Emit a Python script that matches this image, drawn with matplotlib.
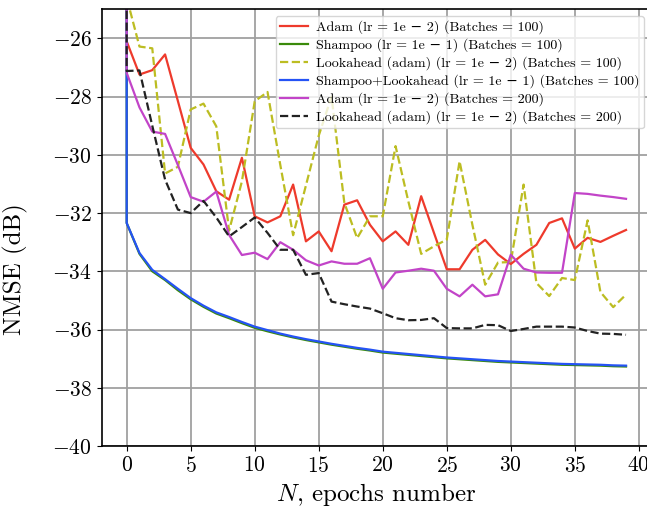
import numpy as np
import matplotlib
matplotlib.use("Agg")
import matplotlib.pyplot as plt

plt.rcParams['font.family'] = 'serif'
plt.rcParams['font.serif'] = ['cmr10', 'DejaVu Serif']
plt.rcParams['mathtext.fontset'] = 'cm'
plt.rcParams['axes.formatter.use_mathtext'] = True

epochs = np.arange(40)
# series that also record the (off-scale) initial value at epoch 0
epochs_init = np.concatenate([[0], epochs])
init_value = -15.0

adam_100 = [-26.1, -27.24, -27.09, -26.55, -28.15, -29.76, -30.33, -31.25, -31.54, -30.1,
            -32.11, -32.32, -32.11, -31.02, -32.97, -32.63, -33.31, -31.71, -31.56, -32.4,
            -32.97, -32.63, -33.09, -31.42, -32.68, -33.93, -33.93, -33.26, -32.92, -33.42,
            -33.75, -33.4, -33.09, -32.34, -32.18, -33.22, -32.85, -32.99, -32.78, -32.58]

shampoo_100 = [-32.34, -33.4, -34.0, -34.3, -34.65, -34.96, -35.22, -35.45, -35.61, -35.78,
               -35.94, -36.06, -36.17, -36.27, -36.36, -36.44, -36.52, -36.59, -36.66, -36.72,
               -36.79, -36.83, -36.87, -36.91, -36.95, -36.99, -37.02, -37.05, -37.08, -37.11,
               -37.13, -37.15, -37.17, -37.19, -37.21, -37.22, -37.23, -37.24, -37.26, -37.27]

lookahead_100 = [-24.6, -26.28, -26.34, -30.64, -30.41, -28.44, -28.24, -29.02, -32.6, -30.91,
                 -28.16, -27.84, -30.35, -32.76, -31.05, -29.34, -28.0, -31.65, -32.86, -32.11,
                 -32.11, -29.7, -31.6, -33.4, -33.14, -32.91, -30.22, -32.4, -34.46, -33.7,
                 -33.68, -31.02, -34.4, -34.85, -34.23, -34.3, -32.25, -34.71, -35.23, -34.8]

shampoo_la_100 = [-32.34, -33.37, -33.95, -34.27, -34.6, -34.92, -35.18, -35.41, -35.57, -35.74,
                  -35.9, -36.02, -36.14, -36.24, -36.33, -36.41, -36.49, -36.56, -36.63, -36.69,
                  -36.76, -36.8, -36.84, -36.88, -36.92, -36.96, -36.99, -37.02, -37.05, -37.08,
                  -37.1, -37.12, -37.14, -37.16, -37.18, -37.19, -37.2, -37.21, -37.23, -37.24]

adam_200 = [-27.18, -28.37, -29.2, -29.28, -30.35, -31.45, -31.61, -31.26, -32.75, -33.44,
            -33.36, -33.58, -33.0, -33.26, -33.62, -33.8, -33.66, -33.74, -33.74, -33.55,
            -34.6, -34.04, -33.98, -33.91, -33.98, -34.6, -34.86, -34.46, -34.86, -34.79,
            -33.43, -33.91, -34.04, -34.05, -34.05, -31.31, -31.34, -31.4, -31.45, -31.51]

lookahead_200 = [-27.12, -27.1, -29.0, -30.85, -31.88, -32.0, -31.58, -32.15, -32.8, -32.48,
                 -32.15, -32.68, -33.26, -33.26, -34.12, -34.06, -35.04, -35.13, -35.21, -35.28,
                 -35.44, -35.61, -35.68, -35.67, -35.61, -35.95, -35.96, -35.96, -35.84, -35.85,
                 -36.05, -35.98, -35.9, -35.9, -35.9, -35.93, -36.05, -36.14, -36.15, -36.18]

labels = [
    "Adam (lr = 1e \u2212 2) (Batches = 100)",
    "Shampoo (lr = 1e \u2212 1) (Batches = 100)",
    "Lookahead (adam) (lr = 1e \u2212 2) (Batches = 100)",
    "Shampoo+Lookahead (lr = 1e \u2212 1) (Batches = 100)",
    "Adam (lr = 1e \u2212 2) (Batches = 200)",
    "Lookahead (adam) (lr = 1e \u2212 2) (Batches = 200)",
]

fig = plt.figure(figsize=(6.47, 5.11), dpi=100)
ax = fig.add_axes([101.7 / 647, 65 / 511, (651 - 101.7) / 647, (446 - 9.3) / 511])

lw = 1.6
ax.plot(epochs, adam_100, color='#ee3a2c', lw=lw, label=labels[0])
ax.plot(epochs_init, [init_value] + shampoo_100, color='#3a8a0a', lw=lw, label=labels[1])
ax.plot(epochs, lookahead_100, color='#bcbd22', lw=lw, ls='--', label=labels[2])
ax.plot(epochs_init, [init_value] + shampoo_la_100, color='#2553f5', lw=lw, label=labels[3])
ax.plot(epochs_init, [init_value] + adam_200, color='#c244c8', lw=lw, label=labels[4])
ax.plot(epochs_init, [init_value] + lookahead_200, color='#222222', lw=lw, ls='--', label=labels[5])

ax.set_xlim(-1.95, 40.95)
ax.set_ylim(-40, -25)
ax.set_xticks(np.arange(0, 41, 5))
ax.set_yticks(np.arange(-40, -25, 2))
ax.tick_params(labelsize=15.5)
ax.grid(True, color='#a0a0a0', lw=1.3)
for s in ax.spines.values():
    s.set_linewidth(1.2)

ax.set_xlabel(r"$N$, epochs number", fontsize=18)
ax.set_ylabel("NMSE (dB)", fontsize=18)
ax.yaxis.set_label_coords(-0.135, 0.405)
ax.legend(loc='upper right', labelspacing=0.3, handletextpad=0.6,
          borderpad=0.3, borderaxespad=0.5,
          prop={'family': ['cmr10', 'DejaVu Serif'], 'size': 10.1})

fig.savefig("out.png", dpi=100)
